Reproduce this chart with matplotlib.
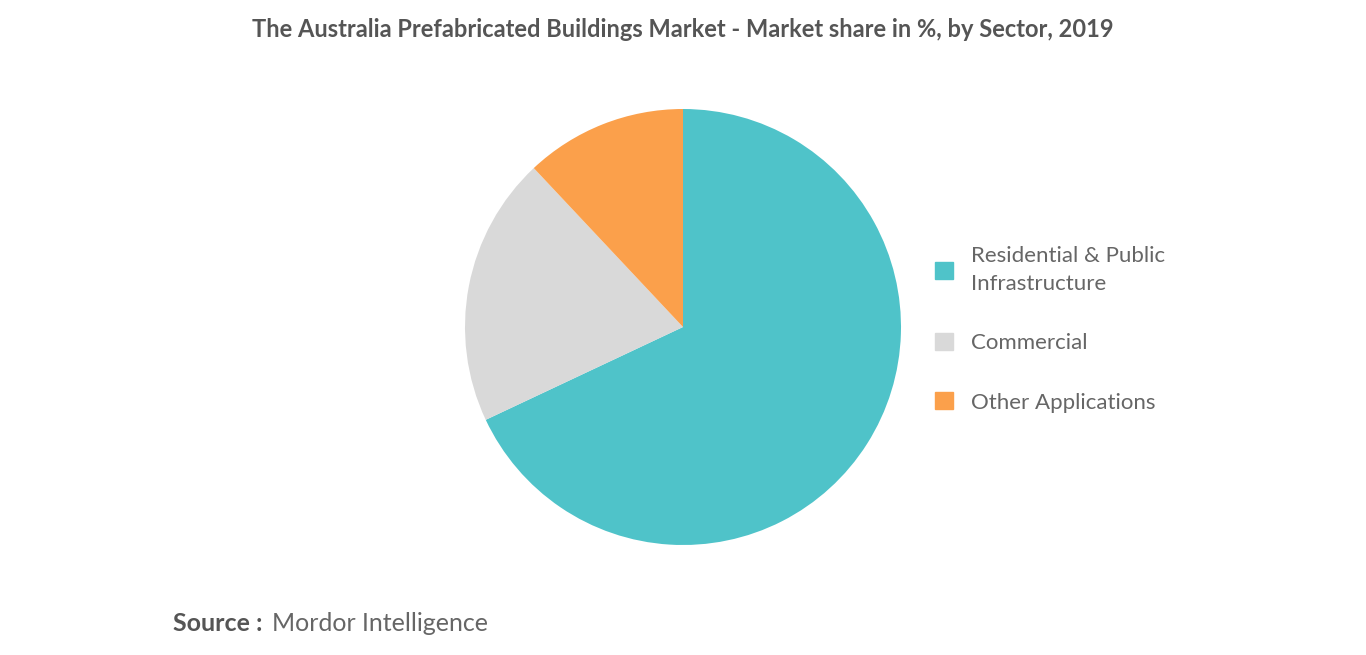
import matplotlib.pyplot as plt
from matplotlib.patches import Patch

sectors = ["Residential & Public\nInfrastructure", "Commercial", "Other Applications"]
shares = [68, 20, 12]
colors = ["#4fc3c9", "#d9d9d9", "#fba04b"]

plt.rcParams["font.family"] = "Lato"
fig = plt.figure(figsize=(13.66, 6.55), dpi=100)
ax = fig.add_axes([(683 - 218) / 1366, (655 - 327 - 218) / 655, 436 / 1366, 436 / 655])
ax.pie(shares, colors=colors, startangle=90, counterclock=False)
ax.set_xlim(-1, 1)
ax.set_ylim(-1, 1)
ax.set_aspect("equal")

fig.text(0.5, 0.955, "The Australia Prefabricated Buildings Market - Market share in %, by Sector, 2019",
         ha="center", va="center", fontsize=17, fontweight="bold", color="#555555")

handles = [Patch(color=c) for c in colors]
leg = fig.legend(handles, sectors, loc="center left", bbox_to_anchor=(0.670, 0.497), frameon=False,
                 fontsize=16, labelcolor="#666666", handlelength=0.8, handleheight=0.8,
                 labelspacing=1.75, handletextpad=0.8)
for t in leg.get_texts():
    t.set_linespacing(1.5)

fig.text(0.127, 0.048, "Source :", fontsize=18, fontweight="bold", color="#555555", va="center")
fig.text(0.199, 0.048, "Mordor Intelligence", fontsize=18, color="#666666", va="center")

fig.savefig("out.png", dpi=100)
